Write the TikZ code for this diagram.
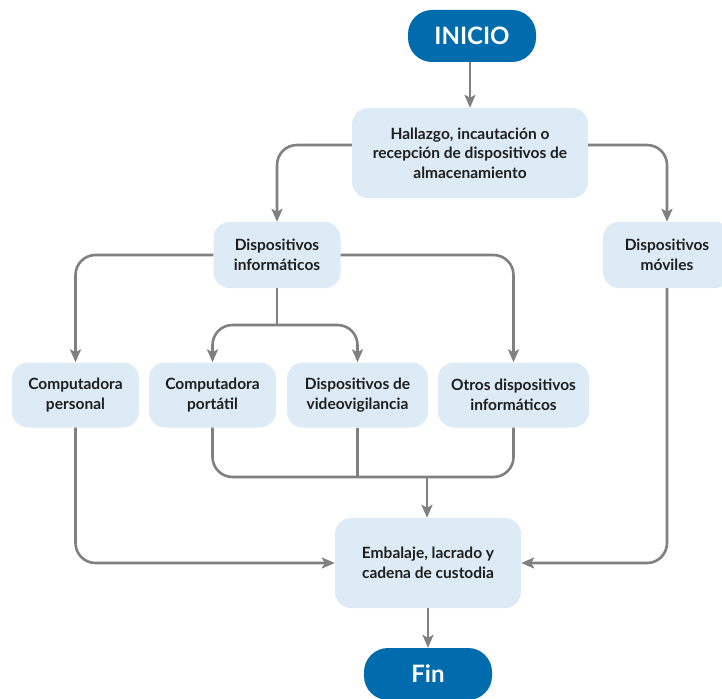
\documentclass[tikz,border=0pt]{standalone}
\usepackage{fontspec}
\setmainfont{Lato}
\usetikzlibrary{arrows.meta,calc}
\definecolor{darkb}{HTML}{006BAD}
\definecolor{lightb}{HTML}{DDEBF6}
\definecolor{linec}{HTML}{808080}
\definecolor{txt}{HTML}{1E1E1E}
\begin{document}
\begin{tikzpicture}[x=1pt,y=-1pt,
  box/.style={fill=lightb, rounded corners=16pt, align=center, text=txt,
    font=\fontsize{15.5}{19.5}\selectfont\bfseries, inner sep=0pt},
  term/.style={fill=darkb, rounded corners=24pt, text=white,
    font=\fontsize{24}{28}\selectfont\bfseries, minimum width=128pt, minimum height=52pt},
  line/.style={draw=linec, line width=2.6pt, rounded corners=20pt},
  arr/.style={line, -{Stealth[length=13pt,width=11pt,inset=3pt]}}]
\useasboundingbox (0,0) rectangle (722,698);
\clip (0,0) rectangle (722,698);
\node[term] (inicio) at (472,36) {INICIO};
\node[box, minimum width=236pt, minimum height=90pt] (hall) at (470,153) {Hallazgo, incautación o\\recepción de dispositivos de\\almacenamiento};
\node[box, minimum width=127pt, minimum height=66pt] (dinf) at (277,255) {Dispositivos\\informáticos};
\node[box, minimum width=128pt, minimum height=66pt] (movil) at (667,255) {Dispositivos\\móviles};
\node[box, minimum width=127pt, minimum height=65pt] (cp) at (75.5,395) {Computadora\\personal};
\node[box, minimum width=127pt, minimum height=65pt] (port) at (212.5,395) {Computadora\\portátil};
\node[box, minimum width=141pt, minimum height=65pt] (video) at (357.5,395) {Dispositivos de\\videovigilancia};
\node[box, minimum width=151pt, minimum height=65pt] (otros) at (513.5,395) {Otros dispositivos\\informáticos};
\node[box, minimum width=186pt, minimum height=90pt] (emb) at (428,563) {Embalaje, lacrado y\\cadena de custodia};
\node[term] (fin) at (428,674) {Fin};
\coordinate (split) at (277,325);
\coordinate (join) at (427,477);
\draw[arr] (inicio.south -| hall.north) -- (hall.north);
\draw[arr] ([yshift=8pt]hall.west) -| (dinf.north);
\draw[arr] ([yshift=8pt]hall.east) -| (movil.north);
\draw[arr] (dinf.west) -| (cp.north);
\draw[arr] (dinf.east) -| (otros.north);
\draw[line] (dinf.south) -- (split);
\draw[arr] (split) -| (port.north);
\draw[arr] (split) -| (video.north);
\draw[line] (port.south) |- (join) -| (otros.south);
\draw[line] (video.south) -- (video.south |- join);
\draw[arr] (join) -- (join |- emb.north);
\draw[arr] (cp.south) |- (emb.west);
\draw[arr] (movil.south) |- (emb.east);
\draw[arr] (emb.south) -- (fin.north);
\end{tikzpicture}
\end{document}
